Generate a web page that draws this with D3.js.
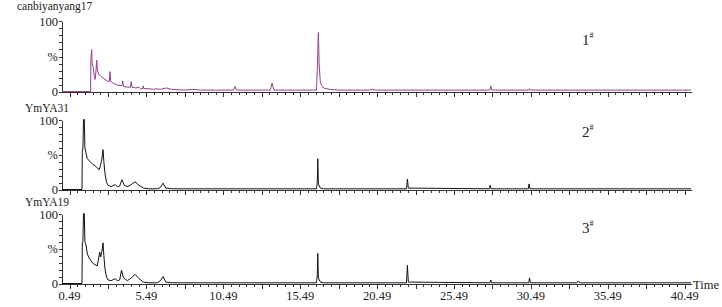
<!DOCTYPE html>
<html>
<head>
<meta charset="utf-8">
<script src="https://cdn.jsdelivr.net/npm/d3@7/dist/d3.min.js"></script>
<style>
    body { margin: 0; background: #fff; }
    svg text { font-family: "Liberation Serif", "Times New Roman", serif; fill: #222; }
    .axis path, .axis line { stroke: #333; shape-rendering: crispEdges; }
</style>
</head>
<body>
<svg id="chart" width="722" height="307"></svg>
<script>
// sample names and panel tags
var sampleNames = ['canbiyanyang17', 'YmYA31', 'YmYA19'];
var panelTags = ['1', '2', '3'];

// time axis labels (min)
var timeLabels = [0.49, 5.49, 10.49, 15.49, 20.49, 25.49, 30.49, 35.49, 40.49];

// relative intensity labels
var intensityLabels = ['0', '%', '100'];
var intensityValues = [0, 50, 100];

// traces: [time, relative intensity %]
var trace1 = [
    [0, 0], [1.86, 0], [1.88, 48], [1.93, 59], [1.96, 40], [2.02, 35], [2.1, 22],
    [2.15, 17], [2.2, 26], [2.26, 44], [2.3, 30], [2.4, 24], [2.6, 20], [2.8, 17],
    [3.0, 14], [3.08, 14], [3.12, 28], [3.17, 14], [3.4, 11], [3.6, 9], [3.9, 8],
    [3.95, 15], [4.0, 7], [4.3, 6], [4.45, 6], [4.5, 14], [4.55, 6], [4.8, 5],
    [5.0, 6], [5.1, 4], [5.25, 4], [5.28, 8], [5.32, 4], [5.6, 4], [6.0, 3],
    [6.05, 4], [6.4, 3], [6.8, 5], [7.1, 3], [8.0, 2], [8.5, 3], [9.0, 2],
    [10.0, 2], [11.15, 2], [11.25, 7], [11.35, 2], [12.5, 2], [13.55, 2],
    [13.66, 12], [13.78, 2], [15, 2], [16.55, 2], [16.6, 30], [16.67, 83],
    [16.72, 40], [16.8, 12], [17.0, 5], [17.4, 3], [18, 2], [20, 2], [20.2, 3],
    [20.4, 2], [24, 2], [27.82, 2], [27.88, 8], [27.94, 2], [30.35, 2],
    [30.4, 4], [30.45, 2], [40.9, 2]
];

var trace2 = [
    [0, 0], [1.30, 0], [1.32, 55], [1.36, 58], [1.40, 100], [1.45, 100],
    [1.49, 60], [1.56, 52], [1.65, 44], [1.82, 40], [2.0, 36], [2.2, 33],
    [2.41, 28], [2.5, 34], [2.58, 42], [2.67, 57], [2.72, 40], [2.8, 22],
    [2.9, 10], [3.0, 6], [3.2, 4], [3.45, 7], [3.6, 4], [3.75, 5], [3.9, 14],
    [4.05, 6], [4.25, 4], [4.5, 7], [4.75, 11], [5.0, 6], [5.3, 2], [5.6, 1],
    [6.2, 1], [6.4, 3], [6.57, 9], [6.75, 2], [7.2, 1], [16.55, 1], [16.6, 10],
    [16.63, 44], [16.67, 8], [16.8, 2], [17, 1], [22.4, 1], [22.46, 15],
    [22.52, 2], [27.8, 1], [27.84, 6], [27.9, 1], [30.32, 1], [30.37, 8],
    [30.43, 1], [40.9, 1]
];

var trace3 = [
    [0, 0], [1.30, 0], [1.32, 58], [1.36, 60], [1.40, 100], [1.45, 100],
    [1.49, 60], [1.56, 55], [1.65, 42], [1.8, 35], [2.0, 29], [2.28, 25],
    [2.38, 35], [2.45, 45], [2.52, 38], [2.58, 44], [2.67, 58], [2.72, 40],
    [2.8, 20], [2.9, 9], [3.0, 5], [3.2, 4], [3.45, 7], [3.6, 4], [3.75, 5],
    [3.87, 19], [4.0, 8], [4.25, 4], [4.5, 8], [4.75, 13], [5.0, 7], [5.3, 2],
    [5.6, 1], [6.2, 1], [6.4, 4], [6.57, 10], [6.75, 2], [7.2, 1], [16.55, 1],
    [16.6, 12], [16.63, 43], [16.67, 8], [16.8, 2], [17, 1], [22.4, 1],
    [22.46, 26], [22.52, 2], [27.82, 1], [27.88, 5], [27.94, 1], [30.35, 1],
    [30.4, 8], [30.46, 1], [33.45, 1], [33.56, 3], [33.7, 1], [40.9, 1]
];

var traces = [trace1, trace2, trace3];

var svg = d3.select('#chart');

var x = d3.scaleLinear()
    .domain([0, 40.9])
    .range([62, 691]);

var panelTops = [21, 120, 214];
var panelBottoms = [92, 190, 284];
var nameOffsets = [[17, 10], [25, 112], [25, 206]];
var tagBaselines = [45, 137, 233];
var lineColors = ['#93408f', '#111', '#111'];

traces.forEach(function(trace, i) {
    var y = d3.scaleLinear()
        .domain([0, 100])
        .range([panelBottoms[i], panelTops[i]]);

    var panel = svg.append('g')
        .attr('class', 'panel panel-' + (i + 1));

    // minor time ticks
    panel.append('g')
        .attr('class', 'axis')
        .attr('transform', 'translate(0,' + panelBottoms[i] + ')')
        .call(d3.axisBottom(x)
            .tickValues(d3.range(0.49, 40.9, 0.5))
            .tickSize(3)
            .tickSizeOuter(0)
            .tickFormat(''));

    // longer ticks every 2.5
    panel.append('g')
        .attr('class', 'axis')
        .attr('transform', 'translate(0,' + panelBottoms[i] + ')')
        .call(d3.axisBottom(x)
            .tickValues(d3.range(0.49, 40.9, 2.5))
            .tickSize(5)
            .tickSizeOuter(0)
            .tickFormat(''));

    // intensity axis
    panel.append('g')
        .attr('class', 'axis')
        .attr('transform', 'translate(' + x(0) + ',0)')
        .call(d3.axisLeft(y)
            .tickValues(d3.range(0, 101, 10))
            .tickSize(3)
            .tickSizeOuter(0)
            .tickFormat(''));

    panel.selectAll('.y-label')
        .data(intensityLabels)
        .enter()
        .append('text')
        .attr('class', 'y-label')
        .attr('x', x(0) - 4)
        .attr('y', function(d, j) { return y(intensityValues[j]) + (j === 2 ? 5 : 4); })
        .attr('text-anchor', 'end')
        .style('font-size', '12.5px')
        .text(function(d) { return d; });

    panel.append('path')
        .datum(trace)
        .attr('fill', 'none')
        .attr('stroke', lineColors[i])
        .attr('stroke-width', 1)
        .attr('stroke-linejoin', 'round')
        .attr('d', d3.line()
            .x(function(d) { return x(d[0]); })
            .y(function(d) { return y(d[1]) - 0.5; }));

    // sample name
    panel.append('text')
        .attr('x', nameOffsets[i][0])
        .attr('y', nameOffsets[i][1])
        .style('font-size', '11.5px')
        .text(sampleNames[i]);

    // panel tag with superscript #
    var tag = panel.append('text')
        .attr('x', 582)
        .attr('y', tagBaselines[i])
        .style('font-size', '15px')
        .text(panelTags[i]);

    tag.append('tspan')
        .attr('dy', -7)
        .style('font-size', '8px')
        .text('#');
});

// bottom time labels
svg.selectAll('.x-label')
    .data(timeLabels)
    .enter()
    .append('text')
    .attr('class', 'x-label')
    .attr('x', function(d) { return x(d); })
    .attr('y', 300)
    .attr('text-anchor', 'middle')
    .style('font-size', '12.5px')
    .text(function(d) { return d.toFixed(2); });

svg.append('text')
    .attr('x', 693)
    .attr('y', 289)
    .style('font-size', '12.5px')
    .text('Time');
</script>
</body>
</html>
